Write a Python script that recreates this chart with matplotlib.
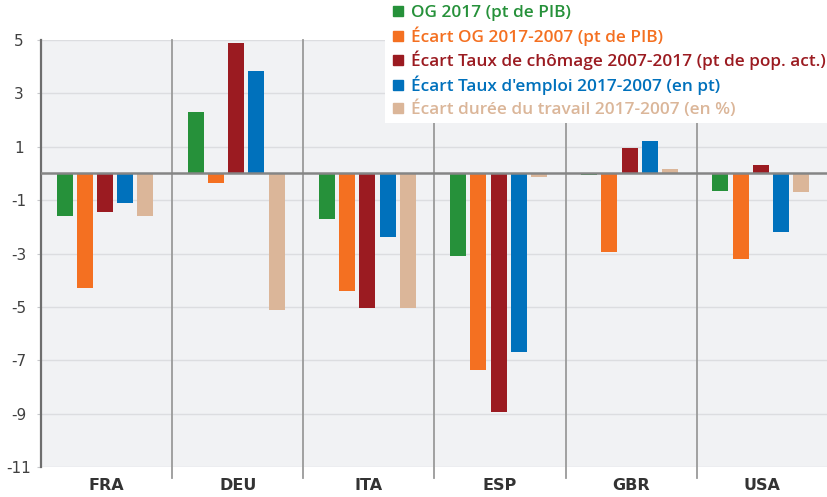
import numpy as np
import matplotlib.pyplot as plt
from matplotlib.patches import Rectangle
from matplotlib.lines import Line2D

# data
pays = ['FRA', 'DEU', 'ITA', 'ESP', 'GBR', 'USA']
og_2017     = [-1.6,  2.3, -1.7, -3.1, -0.05, -0.65]
ecart_og    = [-4.3, -0.35, -4.4, -7.35, -2.95, -3.2]
ecart_chom  = [-1.45, 4.9, -5.05, -8.95, 0.95, 0.3]
ecart_empl  = [-1.1,  3.85, -2.4, -6.7, 1.2, -2.2]
ecart_duree = [-1.6, -5.1, -5.05, -0.15, 0.15, -0.7]

series = [og_2017, ecart_og, ecart_chom, ecart_empl, ecart_duree]
labels = ['OG 2017 (pt de PIB)',
          'Écart OG 2017-2007 (pt de PIB)',
          'Écart Taux de chômage 2007-2017 (pt de pop. act.)',
          "Écart Taux d'emploi 2017-2007 (en pt)",
          'Écart durée du travail 2017-2007 (en %)']
colors = ['#26913a', '#f47021', '#9b1b21', '#0071bc', '#dbb699']
yticks = [5, 3, 1, -1, -3, -5, -7, -9, -11]

narrow = ['Liberation Sans Narrow', 'DejaVu Sans']

fig = plt.figure(figsize=(8.28, 4.97), dpi=100)
ax = fig.add_axes([41/828, 30/497, 787/828, 427/497])
ax.set_facecolor('#f1f2f4')

x = np.arange(len(pays))
pitch = 0.154
width = 0.122
for k, (vals, c) in enumerate(zip(series, colors)):
    ax.bar(x + (k - 2)*pitch - 0.012, vals, width, color=c, zorder=3)

ax.set_xlim(-0.5, len(pays) - 0.5)
ax.set_ylim(-11, 5)
ax.set_yticks(yticks)
ax.set_yticklabels([str(t) for t in yticks], family=narrow, fontsize=11,
                   color='#404040', ha='center')
ax.tick_params(axis='y', length=3, color='#c8c9cc', pad=13)
ax.grid(axis='y', color='#dcdde0', lw=1, zorder=0)
ax.axhline(0, color='#858585', lw=1.8, zorder=4)

ax.set_xticks(x)
ax.set_xticklabels(pays, family=narrow, fontsize=11.5, fontweight='bold',
                   color='#333333')
ax.tick_params(axis='x', length=0, pad=8)

# separators between countries
for b in np.arange(0.5, len(pays) - 0.5):
    ax.axvline(b, ymin=-0.026, ymax=1, color='#9a9a9a', lw=1.3,
               clip_on=False, zorder=2)

for s in ['top', 'right', 'bottom']:
    ax.spines[s].set_visible(False)
ax.spines['left'].set_color('#6e6e6e')
ax.spines['left'].set_linewidth(1.6)

# legend in white box at top right
fig.patches.append(Rectangle((385/828, 1 - 123/497), 443/828, 123/497,
                             transform=fig.transFigure, facecolor='white',
                             edgecolor='none', zorder=5))
handles = [Line2D([], [], ls='none', marker='s', markersize=7,
                  markerfacecolor=c, markeredgecolor=c) for c in colors]
leg = fig.legend(handles, labels, loc='upper left',
                 bbox_to_anchor=(384/828, 1 + 2/497), frameon=False,
                 handlelength=0.8, handletextpad=0.35, labelspacing=0.3,
                 borderaxespad=0, prop={'family': 'Open Sans',
                                        'weight': 'semibold', 'size': 12.4})
leg.set_zorder(6)
for t, c in zip(leg.get_texts(), colors):
    t.set_color(c)

fig.savefig('out.png', dpi=100)
